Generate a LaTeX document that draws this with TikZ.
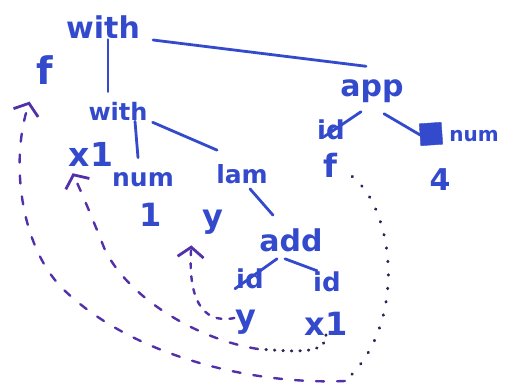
\documentclass[tikz,border=0pt]{standalone}
\usepackage{fontspec}
\setmainfont{DejaVu Sans}
\usetikzlibrary{arrows.meta,calc}
\definecolor{inkblue}{RGB}{52,74,205}
\definecolor{inkpurple}{RGB}{82,48,170}
\definecolor{inkdark}{RGB}{38,38,90}
\newcommand\hand[1]{\fontsize{#1}{#1}\selectfont\bfseries}
\tikzset{
 word/.style={text=inkblue,inner sep=1pt},
 branch/.style={draw=inkblue,line width=2.8pt,line cap=round},
 bindline/.style={draw=inkpurple,line width=2.4pt,line cap=round,dash pattern=on 8pt off 13pt},
 binddots/.style={draw=inkdark,line width=3pt,line cap=round,dash pattern=on 0.5pt off 13pt},
 bindtip/.style={-{Straight Barb[length=10pt,width=26pt,line width=2.8pt]}},
 blot/.style={fill=inkblue,draw=inkblue,minimum size=22pt,inner sep=0,rotate=4}
}
\begin{document}
\begin{tikzpicture}[x=1pt,y=-1pt]
\path[use as bounding box] (0,0) rectangle (514,391);
% outer let and its body
\node[word,font=\hand{30}] (wtop) at (103,27) {with};
\node[word,font=\hand{38}] (ftop) at (45,70) {f};
\node[word,font=\hand{24}] (w2) at (118,111) {with};
\node[word,font=\hand{33}] (x1a) at (91,154) {x1};
\node[word,font=\hand{25}] (numa) at (143,180) {num};
\node[word,font=\hand{32}] (one) at (151,215) {1};
\node[word,font=\hand{25}] (lam) at (242,174) {lam};
\node[word,font=\hand{32}] (ylam) at (213,222) {y};
\node[word,font=\hand{30}] (add) at (291,240) {add};
\node[word,font=\hand{26}] (idl) at (250,279) {id};
\node[word,font=\hand{32}] (yb) at (246,322) {y};
\node[word,font=\hand{26}] (idr) at (327,282) {id};
\node[word,font=\hand{32}] (x1b) at (326,324) {x1};
% application
\node[word,font=\hand{30}] (app) at (372,91) {app};
\node[word,font=\hand{26}] (ida) at (331,130) {id};
\node[word,font=\hand{32}] (fa) at (330,165) {f};
\node[blot] (sq) at (431,134) {};
\node[word,font=\hand{20}] (numb) at (474,136) {num};
\node[word,font=\hand{30}] (four) at (440,180) {4};
% tree edges
\draw[branch] ([xshift=5]wtop.south) -- ([shift={(-10,-9)}]w2.north);
\draw[branch] ([shift={(12,13)}]wtop.east) -- ([shift={(-6,-12)}]app.north);
\draw[branch] ([xshift=17]w2.south) -- ([shift={(-5,-14)}]numa.north);
\draw[branch] ([shift={(4,1)}]w2.south east) -- ([shift={(2,-13)}]lam.north west);
\draw[branch] ([shift={(8,4)}]lam.south) -- ([shift={(-18,-12)}]add.north);
\draw[branch] ([shift={(-14,6)}]add.south) -- ([shift={(-15,21)}]idl.north);
\draw[branch] ([shift={(-6,6)}]add.south) -- ([xshift=-10]idr.north);
\draw[branch] ([shift={(-11,8)}]app.south) -- ([shift={(-7,18)}]ida.north);
\draw[branch] ([shift={(12,10)}]app.south) -- (sq.west);
% binding arrows
\coordinate (fbend) at (345,381);
\coordinate (xbend) at (258,349);
\draw[binddots] ([shift={(14,-2)}]fa.south east) .. controls (395,210) and (408,325) .. (fbend);
\draw[bindline,bindtip] (fbend) .. controls (250,385) and (130,355) .. (62,288)
  .. controls (20,245) and (10,160) .. ([shift={(-6,16)}]ftop.south west);
\draw[binddots,dash pattern=on 0.5pt off 8pt] ([yshift=2]x1b.south) .. controls (326,354) and (300,352) .. (xbend);
\draw[bindline,bindtip] (xbend) .. controls (200,340) and (130,300) .. (105,250)
  .. controls (95,225) and (85,200) .. ([shift={(5,6)}]x1a.south west);
\draw[bindline,dash pattern=on 5pt off 8pt,bindtip] ([yshift=4]yb.west) .. controls (200,325) and (188,295) .. ([shift={(-10,10)}]ylam.south west);
\end{tikzpicture}
\end{document}
